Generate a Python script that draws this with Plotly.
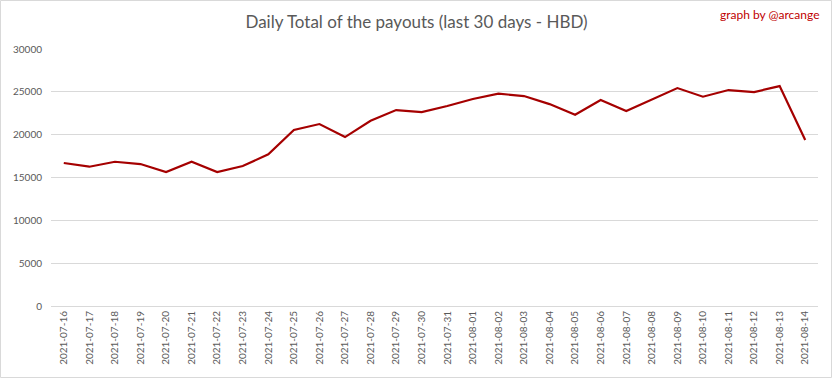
import plotly.graph_objects as go

dates = ["2021-07-16", "2021-07-17", "2021-07-18", "2021-07-19", "2021-07-20",
         "2021-07-21", "2021-07-22", "2021-07-23", "2021-07-24", "2021-07-25",
         "2021-07-26", "2021-07-27", "2021-07-28", "2021-07-29", "2021-07-30",
         "2021-07-31", "2021-08-01", "2021-08-02", "2021-08-03", "2021-08-04",
         "2021-08-05", "2021-08-06", "2021-08-07", "2021-08-08", "2021-08-09",
         "2021-08-10", "2021-08-11", "2021-08-12", "2021-08-13", "2021-08-14"]
payouts_hbd = [16690, 16260, 16840, 16570, 15640, 16840, 15640, 16340, 17700, 20540,
               21240, 19720, 21630, 22870, 22640, 23340, 24160, 24780, 24510, 23570,
               22330, 24040, 22760, 24080, 25440, 24430, 25210, 24970, 25670, 19370]
y_ticks = [0, 5000, 10000, 15000, 20000, 25000, 30000]

FONT = "Lato, 'Liberation Sans', sans-serif"
GREY = "#595959"

fig = go.Figure()
fig.add_trace(go.Scatter(
    x=dates, y=payouts_hbd, mode="lines",
    line=dict(color="#a50000", width=2.2),
    showlegend=False,
))

W, H = 833, 379
L, R, T, B = 51, 15, 49, 73
pw, ph = W - L - R, H - T - B

fig.update_layout(
    width=W, height=H,
    margin=dict(l=L, r=R, t=T, b=B, autoexpand=False),
    paper_bgcolor="white", plot_bgcolor="white",
    font=dict(family=FONT, color=GREY, size=10),
    title=dict(text="Daily Total of the payouts (last 30 days - HBD)",
               x=0.5, xanchor="center", y=1 - 22 / H, yanchor="middle",
               font=dict(size=17, color=GREY, family=FONT)),
    xaxis=dict(type="category", tickangle=-90, range=[-0.5, len(dates) - 0.5],
               showgrid=False, showline=True, linecolor="#d9d9d9", linewidth=1,
               ticks="", tickfont=dict(size=10, color=GREY), fixedrange=True,
               automargin=False),
    yaxis=dict(range=[0, 30000], tickvals=y_ticks, ticktext=[str(v) for v in y_ticks],
               showgrid=True, gridcolor="#d9d9d9", gridwidth=1, zeroline=False,
               showline=False, ticks="", tickfont=dict(size=10, color=GREY),
               ticklabelstandoff=8, fixedrange=True, automargin=False),
    annotations=[dict(text="graph by @arcange", xref="paper", yref="paper",
                      x=(822 - L) / pw, y=(T + ph - 14) / ph, xanchor="right", yanchor="middle",
                      showarrow=False, font=dict(size=12, color="#c00000", family=FONT))],
    shapes=[dict(type="rect", xref="paper", yref="paper",
                 x0=(0.5 - L) / pw, x1=(W - 1.5 - L) / pw,
                 y0=(T + ph - (H - 1.5)) / ph, y1=(T + ph - 0.5) / ph,
                 line=dict(color="#d9d9d9", width=1), layer="below")],
)

fig.write_html("out.html", config={"displayModeBar": False},
               post_script="document.body.style.margin='0';document.body.style.overflow='hidden';")
